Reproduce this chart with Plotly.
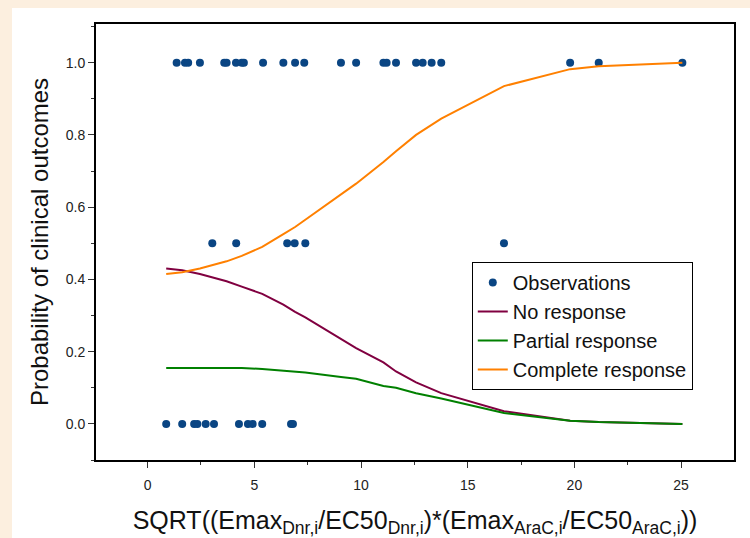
import plotly.graph_objects as go

# Observations
obs_x_1 = [1.36, 1.75, 1.90, 2.45, 3.59, 3.70, 4.14, 4.41, 4.51, 5.41, 6.36, 6.91, 7.34,
           9.06, 9.77, 11.05, 11.20, 11.64, 12.58, 12.89, 13.31, 13.76, 19.80, 21.14, 25.06]
obs_x_half = [3.03, 4.15, 6.54, 6.89, 7.39, 16.70]
obs_x_0 = [0.87, 1.62, 2.18, 2.33, 2.72, 3.11, 4.28, 4.70, 4.92, 5.37, 6.72, 6.81]

# Model curves
curve_x = [0.87, 1.62, 2.45, 3.11, 3.70, 4.41, 5.37, 6.36, 6.91, 7.39, 9.06, 9.77,
           11.05, 11.64, 12.58, 13.76, 16.70, 19.80, 21.14, 25.06]
no_resp = [0.43, 0.425, 0.415, 0.405, 0.395, 0.38, 0.36, 0.33, 0.31, 0.295, 0.235, 0.21,
           0.17, 0.145, 0.115, 0.085, 0.035, 0.009, 0.005, 0.0]
partial_resp = [0.155, 0.155, 0.155, 0.155, 0.155, 0.155, 0.152, 0.148, 0.145, 0.142, 0.13, 0.125,
                0.105, 0.1, 0.085, 0.07, 0.03, 0.009, 0.005, 0.0]
complete_resp = [0.415, 0.42, 0.43, 0.44, 0.45, 0.465, 0.49, 0.525, 0.545, 0.565, 0.635, 0.665,
                 0.725, 0.755, 0.80, 0.845, 0.935, 0.982, 0.99, 1.0]

x_ticks = [0, 5, 10, 15, 20, 25]
y_ticks = [0.0, 0.2, 0.4, 0.6, 0.8, 1.0]
y_ticklabels = ["0.0", "0.2", "0.4", "0.6", "0.8", "1.0"]

obs_x = obs_x_1 + obs_x_half + obs_x_0
obs_y = [1.0] * len(obs_x_1) + [0.5] * len(obs_x_half) + [0.0] * len(obs_x_0)

FONT = "Liberation Sans, Arial, sans-serif"

fig = go.Figure()
fig.add_trace(go.Scatter(x=obs_x, y=obs_y, mode="markers", name="Observations",
                         marker=dict(color="#0A4583", size=8)))
fig.add_trace(go.Scatter(x=curve_x, y=no_resp, mode="lines", name="No response",
                         line=dict(color="#800040", width=2)))
fig.add_trace(go.Scatter(x=curve_x, y=partial_resp, mode="lines", name="Partial response",
                         line=dict(color="#008000", width=2)))
fig.add_trace(go.Scatter(x=curve_x, y=complete_resp, mode="lines", name="Complete response",
                         line=dict(color="#FF8000", width=2)))

fig.add_shape(type="rect", xref="paper", yref="paper",
              x0=-0.1317, x1=1.03, y0=-0.2, y1=1.0367,
              fillcolor="white", line=dict(width=0), layer="below")

fig.update_layout(
    width=750, height=538,
    margin=dict(l=96, r=16, t=24, b=78),
    paper_bgcolor="#FCEFDF",
    plot_bgcolor="white",
    font=dict(family=FONT, color="#222"),
    showlegend=True,
    legend=dict(x=0.589, y=0.454, xanchor="left", yanchor="top",
                bgcolor="white", bordercolor="black", borderwidth=1,
                font=dict(size=20, color="#111", family=FONT)),
    xaxis=dict(range=[-2.42, 27.48], tickvals=x_ticks, ticks="outside", ticklen=6,
               tickcolor="#333", tickfont=dict(size=14, color="#222"),
               ticklabelstandoff=5, automargin=False,
               showline=True, linecolor="black", linewidth=2, mirror=True,
               showgrid=False, zeroline=False,
               minor=dict(dtick=2.5, ticks="outside", ticklen=3, tickcolor="#333"),
               title=dict(text="SQRT((Emax<sub>Dnr,i</sub>/EC50<sub>Dnr,i</sub>)*(Emax<sub>AraC,i</sub>/EC50<sub>AraC,i</sub>))",
                          font=dict(size=25, color="#111"), standoff=22)),
    yaxis=dict(range=[-0.1, 1.107], tickvals=y_ticks, ticktext=y_ticklabels, ticks="outside",
               ticklen=6, tickcolor="#333", tickfont=dict(size=14, color="#222"),
               automargin=False,
               showline=True, linecolor="black", linewidth=2, mirror=True,
               showgrid=False, zeroline=False,
               minor=dict(dtick=0.1, ticks="outside", ticklen=3, tickcolor="#333"),
               title=dict(text="Probability of clinical outcomes",
                          font=dict(size=24, color="#111"), standoff=10)),
)

fig.write_html("out.html", config={"displayModeBar": False},
               post_script="document.body.style.margin='0px';document.body.style.background='#FCEFDF';")
